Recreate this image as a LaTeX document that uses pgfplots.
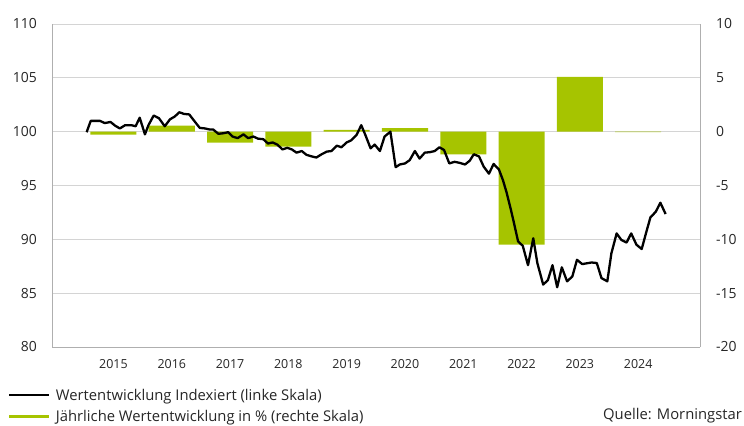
\documentclass[border=0pt]{standalone}
\usepackage{pgfplots}
\pgfplotsset{compat=1.18}
\usepackage{fontspec}
\setmainfont{Open Sans}
\definecolor{barg}{RGB}{166,196,0}
\definecolor{gridc}{RGB}{212,212,212}
\definecolor{axc}{RGB}{175,175,175}
\begin{document}
\begin{tikzpicture}[x=1bp,y=1bp]
\useasboundingbox (0,0) rectangle (744,425);
% bars, right scale
\begin{axis}[at={(52bp,78bp)}, anchor=south west, scale only axis,
  width=648bp, height=323bp,
  xmin=2013.946, xmax=2025.06, ymin=-20, ymax=10,
  axis y line*=right, axis x line=none,
  ytick={-20,-15,...,10}, ymajorgrids, grid style={gridc, line width=0.8bp},
  major tick length=0pt,
  axis line style={axc, line width=0.8bp, -},
  y axis line style={axc},
  /pgf/number format/assume math mode=true,
  yticklabel style={font=\fontsize{14}{16}\selectfont, inner sep=0pt, anchor=west, text=black!85},
  yticklabel shift=16bp,
  bar width=0.79, clip=false]
\addplot[ybar, fill=barg, draw=none] coordinates {
(2015,-0.27) (2016,0.56) (2017,-1.02) (2018,-1.39) (2019,0.17)
(2020,0.34) (2021,-2.1) (2022,-10.5) (2023,5.1) (2024,-0.05)};
\end{axis}
% line, left scale
\begin{axis}[at={(52bp,78bp)}, anchor=south west, scale only axis,
  width=648bp, height=323bp,
  xmin=2013.946, xmax=2025.06, ymin=80, ymax=110,
  axis y line*=left, axis x line*=bottom,
  ytick={80,85,...,110}, xtick={2015,...,2024},
  major tick length=0pt,
  axis line style={axc, line width=0.8bp, -},
  /pgf/number format/assume math mode=true,
  xticklabel={\pgfmathprintnumber[1000 sep={},fixed]{\tick}},
  yticklabel style={font=\fontsize{14}{16}\selectfont, inner sep=0pt, anchor=east, text=black!85},
  yticklabel shift=15bp,
  xticklabel style={font=\fontsize{12.5}{14}\selectfont, inner sep=0pt, anchor=north, text=black!85},
  xticklabel shift=12bp,
  legend style={draw=none, fill=none, at={(-0.068,-0.1265)}, anchor=north west,
    font=\fontsize{14.85}{16}\selectfont, row sep=6.5bp, column sep=4bp, inner sep=0pt, outer sep=0pt,
    nodes={inner sep=1bp, text=black!85}},
  legend cell align=left,
  legend image code/.code={\draw[#1] (0bp,0bp) -- (40bp,0bp);},
  clip=false]
\addplot[black, line width=2.3bp, line join=round] coordinates {
(2014.54,99.95) (2014.61,101.0) (2014.77,101.0) (2014.85,100.8) (2014.95,100.9)
(2015.03,100.55) (2015.11,100.3) (2015.20,100.6) (2015.31,100.6) (2015.38,100.5)
(2015.45,101.3) (2015.54,99.75) (2015.60,100.6) (2015.69,101.5) (2015.78,101.25)
(2015.88,100.5) (2015.97,101.15) (2016.05,101.4) (2016.13,101.8) (2016.21,101.65)
(2016.30,101.6) (2016.40,100.9) (2016.48,100.35) (2016.57,100.3) (2016.65,100.2)
(2016.71,100.2) (2016.80,99.8) (2016.88,99.85) (2016.97,99.95) (2017.04,99.55)
(2017.13,99.4) (2017.23,99.75) (2017.31,99.4) (2017.40,99.55) (2017.48,99.35)
(2017.57,99.3) (2017.65,98.9) (2017.73,99.0) (2017.81,98.8) (2017.90,98.35)
(2017.98,98.5) (2018.06,98.35) (2018.14,98.05) (2018.23,98.2) (2018.31,97.85)
(2018.40,97.7) (2018.48,97.6) (2018.57,97.9) (2018.66,98.15) (2018.74,98.2)
(2018.83,98.7) (2018.91,98.55) (2019.00,99.0) (2019.08,99.2) (2019.17,99.7)
(2019.25,100.6) (2019.32,99.7) (2019.41,98.45) (2019.48,98.8) (2019.57,98.2)
(2019.65,99.55) (2019.75,100.0) (2019.84,96.7) (2019.91,96.95) (2020.00,97.05)
(2020.08,97.35) (2020.17,98.2) (2020.25,97.5) (2020.34,98.05) (2020.43,98.1)
(2020.51,98.2) (2020.59,98.55) (2020.67,98.3) (2020.76,97.05) (2020.85,97.2)
(2020.94,97.1) (2021.03,96.95) (2021.11,97.3) (2021.18,97.9) (2021.27,97.7)
(2021.35,96.75) (2021.44,96.1) (2021.52,97.0) (2021.61,96.5) (2021.68,95.5)
(2021.74,94.4) (2021.81,92.9) (2021.87,91.5) (2021.94,89.8) (2022.02,89.4)
(2022.11,87.6) (2022.20,90.1) (2022.27,87.8) (2022.37,85.8) (2022.45,86.2)
(2022.53,87.6) (2022.61,85.55) (2022.69,87.4) (2022.78,86.1) (2022.87,86.55)
(2022.95,88.1) (2023.04,87.7) (2023.20,87.85) (2023.29,87.8) (2023.37,86.4)
(2023.47,86.1) (2023.54,88.7) (2023.63,90.55) (2023.71,89.95) (2023.80,89.7)
(2023.88,90.55) (2023.97,89.5) (2024.06,89.1) (2024.14,90.7) (2024.21,92.05)
(2024.30,92.55) (2024.38,93.4) (2024.47,92.35)};
\addlegendentry{Wertentwicklung Indexiert (linke Skala)}
\addlegendimage{barg, line width=3bp}
\addlegendentry{Jährliche Wertentwicklung in \% (rechte Skala)}
\end{axis}
\node[anchor=east, inner sep=0pt, font=\fontsize{14.85}{16}\selectfont, text=black!85] at (742,9) {Quelle: Morningstar};
\end{tikzpicture}
\end{document}
